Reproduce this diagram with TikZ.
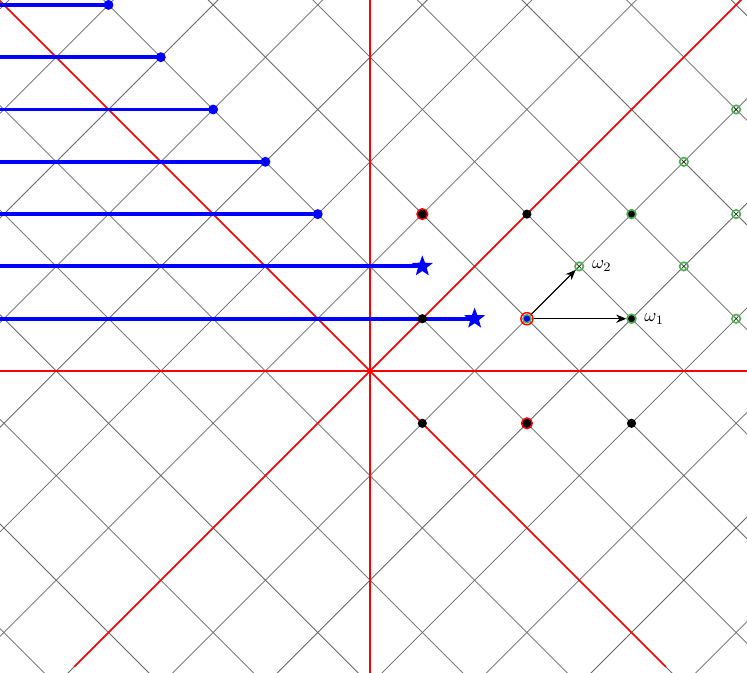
\documentclass[tikz,border=0pt]{standalone}
\usetikzlibrary{shapes.geometric,arrows.meta}
\definecolor{mygreen}{RGB}{76,175,80}
\begin{document}
\begin{tikzpicture}[x=1cm,y=1cm,
  gridline/.style={black!60, line width=0.42pt},
  redline/.style={red, line width=0.9pt},
  blueline/.style={blue, line width=2pt},
  bluethick/.style={blue, line width=2.2pt},
  bluedot/.style={circle, fill=blue, inner sep=0pt, minimum size=5.4pt},
  bluestar/.style={star, star points=5, star point ratio=2.4, fill=blue, inner sep=0pt, minimum size=12pt},
  blackdot/.style={circle, fill=black, inner sep=0pt, minimum size=5pt},
  redring/.style={circle, fill=black, draw=red, line width=0.8pt, inner sep=0pt, minimum size=5.8pt},
  greenblack/.style={circle, fill=black, draw=mygreen, line width=0.9pt, inner sep=0pt, minimum size=4.8pt},
  otimesmark/.style={circle, fill=white, draw=mygreen, line width=0.9pt, inner sep=0pt, minimum size=4.6pt,
    path picture={\draw[black, line width=0.3pt]
      ([shift={(-1.2pt,-1.2pt)}]path picture bounding box.center) -- ([shift={(1.2pt,1.2pt)}]path picture bounding box.center)
      ([shift={(-1.2pt,1.2pt)}]path picture bounding box.center) -- ([shift={(1.2pt,-1.2pt)}]path picture bounding box.center);}},
  outerred/.style={circle, draw=red, line width=0.8pt, inner sep=0pt, minimum size=6.6pt},
  bluecenter/.style={circle, fill=blue, draw=mygreen, line width=0.8pt, inner sep=0pt, minimum size=4.4pt},
  vecarrow/.style={-{Stealth[length=5.5pt,width=4.5pt]}, line width=0.55pt, black},
  lbl/.style={anchor=west, inner sep=1pt}
]
\useasboundingbox (-7.075,-5.774) rectangle (7.208,7.094);
\fill[white] (-7.075,-5.774) rectangle (7.208,7.094);
\clip (-7.075,-5.774) rectangle (7.208,7.094);

% grid
\foreach \k in {-9,...,9}{
  \draw[gridline] ({2*\k-14},14) -- ({2*\k+14},-14);
  \draw[gridline] ({2*\k-14},-14) -- ({2*\k+14},14);
}

% red axes
\coordinate (O) at (0,0);
\coordinate (rt) at (0,8);
\coordinate (rb) at (0,-7);
\coordinate (rl) at (-8,0);
\coordinate (rr) at (8,0);
\coordinate (rne) at (8,8);
\coordinate (rnw) at (-8,8);
\coordinate (rsw) at (225:8);
\coordinate (rse) at (315:8);
\draw[redline] (rb) -- (rt);
\draw[redline] (rl) -- (rr);
\draw[redline] (rsw) -- (O) -- (rne);
\draw[redline] (rnw) -- (O) -- (rse);

% blue lines
\foreach \x/\y in {-5/7,-4/6,-3/5,-2/4,-1/3}{
  \coordinate (bs\y) at (-8,\y);
  \coordinate (be\y) at (\x,\y);
  \draw[blueline] (bs\y) -- (be\y);
  \node[bluedot] (bd\y) at (be\y) {};
}
\coordinate (bs2) at (-8,2);
\coordinate (be2) at (1,2);
\coordinate (bs1) at (-8,1);
\coordinate (be1) at (2,1);
\draw[bluethick] (bs2) -- (be2);
\draw[bluethick] (bs1) -- (be1);
\node[bluestar] (st2) at (be2) {};
\node[bluestar] (st1) at (be1) {};

% lattice markers
\node[redring] (p13) at (1,3) {};
\node[blackdot] (p33) at (3,3) {};
\node[greenblack] (p53) at (5,3) {};
\node[blackdot] (p11) at (1,1) {};
\node[outerred] (p31r) at (3,1) {};
\node[bluecenter] (p31) at (3,1) {};
\node[greenblack] (p51) at (5,1) {};
\node[otimesmark] (p42) at (4,2) {};
\node[blackdot] (p1m) at (1,-1) {};
\node[redring] (p3m) at (3,-1) {};
\node[blackdot] (p5m) at (5,-1) {};
\node[otimesmark] (p62) at (6,2) {};
\node[otimesmark] (p71) at (7,1) {};
\node[otimesmark] (p73) at (7,3) {};
\node[otimesmark] (p64) at (6,4) {};
\node[otimesmark] (p75) at (7,5) {};

% vectors
\draw[vecarrow] (p31r) -- (p42);
\draw[vecarrow] (p31r) -- (p51);
\node[lbl] (w2) at ([xshift=3pt]p42.east) {$\omega_2$};
\node[lbl] (w1) at ([xshift=3pt]p51.east) {$\omega_1$};
\end{tikzpicture}
\end{document}
